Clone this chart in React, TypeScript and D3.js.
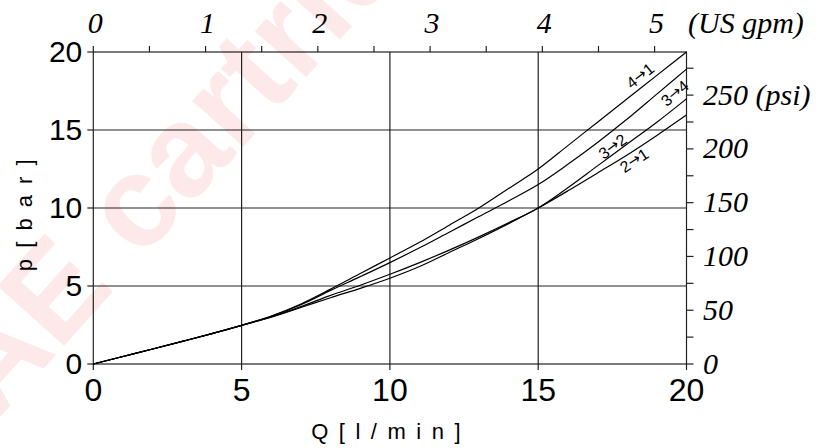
import React, { useEffect, useRef } from 'react';
import * as d3 from 'd3';

// flow in l/min, pressure drop in bar
const FLOW = [0, 1, 2, 3, 4, 5, 6, 7, 8, 9, 10, 11, 12, 13, 14, 15, 16, 17, 18, 19, 20];
const P_4_1 = [0, 0.48, 0.96, 1.45, 1.95, 2.48, 3.08, 3.85, 4.8, 5.8, 6.8, 7.8, 8.9, 10.0, 11.25, 12.5, 14.0, 15.5, 17.0, 18.5, 20.0];
const P_3_4 = [0, 0.48, 0.96, 1.45, 1.95, 2.48, 3.06, 3.8, 4.72, 5.6, 6.5, 7.45, 8.45, 9.45, 10.45, 11.5, 12.8, 14.2, 15.7, 17.3, 18.9];
const P_3_2 = [0, 0.48, 0.96, 1.45, 1.95, 2.48, 3.02, 3.68, 4.4, 5.05, 5.75, 6.5, 7.3, 8.15, 9.05, 10.0, 11.3, 12.7, 14.1, 15.5, 17.0];
const P_2_1 = [0, 0.48, 0.96, 1.45, 1.95, 2.48, 3.0, 3.62, 4.25, 4.85, 5.5, 6.25, 7.15, 8.05, 9.0, 10.0, 11.1, 12.25, 13.4, 14.65, 15.96];

const SERIES = [P_4_1, P_3_4, P_3_2, P_2_1];
const SERIES_LABELS = ['4\u21921', '3\u21924', '3\u21922', '2\u21921'];
const LABEL_AT_FLOW = [18.65, 19.37, 17.64, 18.08];

const BAR_TICKS = [0, 5, 10, 15, 20];
const FLOW_TICKS = [0, 5, 10, 15, 20];
const GPM_TICKS = [0, 0.5, 1, 1.5, 2, 2.5, 3, 3.5, 4, 4.5, 5];
const PSI_TICKS = [0, 25, 50, 75, 100, 125, 150, 175, 200, 225, 250, 275];

const L_PER_GAL = 3.785;
const PSI_PER_BAR = 14.5038;

const SANS = '"Liberation Sans", Arial, sans-serif';
const SERIF = '"Liberation Serif", "Times New Roman", serif';

export default function App() {
  const ref = useRef<SVGSVGElement>(null);

  useEffect(() => {
    const svg = d3.select(ref.current);
    svg.selectAll('*').remove();

    const left = 93.3, right = 686.5, top = 52, bottom = 364;
    const x = d3.scaleLinear().domain([0, 20]).range([left, right]);
    const y = d3.scaleLinear().domain([0, 20]).range([bottom, top]);
    const xGpm = d3.scaleLinear().domain([0, 20 / L_PER_GAL]).range([left, right]);
    const yPsi = d3.scaleLinear().domain([0, 20 * PSI_PER_BAR]).range([bottom, top]);

    // watermark
    svg.append('text')
      .attr('transform', 'translate(-38,392) rotate(-48)')
      .attr('font-family', SANS)
      .attr('font-weight', 'bold')
      .attr('font-size', 130)
      .attr('fill', '#fde9e9')
      .attr('dominant-baseline', 'central')
      .text('AE cartridge');

    const grid = svg.append('g').attr('stroke', '#222').attr('stroke-width', 1.2);
    [5, 10, 15].forEach((v) => {
      grid.append('line').attr('x1', x(v)).attr('x2', x(v)).attr('y1', top).attr('y2', bottom);
      grid.append('line').attr('x1', left).attr('x2', right).attr('y1', y(v)).attr('y2', y(v));
    });
    grid.append('rect')
      .attr('x', left).attr('y', top)
      .attr('width', right - left).attr('height', bottom - top)
      .attr('fill', 'none');

    // left axis
    BAR_TICKS.forEach((v) => {
      grid.append('line').attr('x1', left - 6).attr('x2', left).attr('y1', y(v)).attr('y2', y(v));
      svg.append('text')
        .attr('x', left - 11).attr('y', y(v) + 10)
        .attr('text-anchor', 'end')
        .attr('font-family', SANS).attr('font-size', 30)
        .text(v);
    });

    // bottom axis
    FLOW_TICKS.forEach((v) => {
      grid.append('line').attr('x1', x(v)).attr('x2', x(v)).attr('y1', bottom).attr('y2', bottom + 6);
      svg.append('text')
        .attr('x', x(v)).attr('y', 400.5)
        .attr('text-anchor', 'middle')
        .attr('font-family', SANS).attr('font-size', 32)
        .text(v);
    });

    // top axis (US gpm)
    GPM_TICKS.forEach((v) => {
      grid.append('line').attr('x1', xGpm(v)).attr('x2', xGpm(v)).attr('y1', top - 6).attr('y2', top);
      if (Number.isInteger(v)) {
        svg.append('text')
          .attr('x', xGpm(v) + 2).attr('y', 33)
          .attr('text-anchor', 'middle')
          .attr('font-family', SERIF).attr('font-style', 'italic').attr('font-size', 30)
          .text(v);
      }
    });
    svg.append('text')
      .attr('x', 688).attr('y', 33)
      .attr('font-family', SERIF).attr('font-style', 'italic').attr('font-size', 30)
      .text('(US gpm)');

    // right axis (psi)
    PSI_TICKS.forEach((v) => {
      grid.append('line').attr('x1', right).attr('x2', right + 7).attr('y1', yPsi(v)).attr('y2', yPsi(v));
      if (v % 50 === 0) {
        svg.append('text')
          .attr('x', 703).attr('y', yPsi(v) + 9.5)
          .attr('font-family', SERIF).attr('font-style', 'italic').attr('font-size', 30)
          .text(v === 250 ? '250 (psi)' : v);
      }
    });

    // axis titles
    svg.append('text')
      .attr('transform', 'translate(32,214) rotate(-90)')
      .attr('text-anchor', 'middle')
      .attr('font-family', SANS).attr('font-size', 22)
      .attr('letter-spacing', 2.5)
      .text('p [ b a r ]');
    svg.append('text')
      .attr('x', 387).attr('y', 439)
      .attr('text-anchor', 'middle')
      .attr('font-family', SANS).attr('font-size', 22)
      .attr('letter-spacing', 2.2)
      .text('Q [ l / m i n ]');

    // curves
    const line = d3.line<number>()
      .x((d, i) => x(FLOW[i]))
      .y((d) => y(d))
      .curve(d3.curveMonotoneX);

    SERIES.forEach((s) => {
      svg.append('path')
        .attr('d', line(s))
        .attr('fill', 'none')
        .attr('stroke', '#000')
        .attr('stroke-width', 1.2);
    });

    // curve labels along the curves
    const offsets = [-10.5, 10.5, -7, 8];
    SERIES.forEach((s, k) => {
      const q = LABEL_AT_FLOW[k];
      const i0 = Math.floor(q);
      const t = q - i0;
      const p = s[i0] + (s[i0 + 1] - s[i0]) * t;
      const dx = x(FLOW[i0 + 1]) - x(FLOW[i0]);
      const dy = y(s[i0 + 1]) - y(s[i0]);
      const th = Math.atan2(dy, dx);
      const off = -offsets[k];
      const px = x(q) + off * Math.sin(th);
      const py = y(p) - off * Math.cos(th);
      const g = svg.append('text')
        .attr('transform', `translate(${px},${py}) rotate(${(th * 180) / Math.PI})`)
        .attr('text-anchor', 'middle')
        .attr('dominant-baseline', 'central')
        .attr('font-family', SANS).attr('font-size', 16);
      const [a, b] = SERIES_LABELS[k].split('\u2192');
      g.append('tspan').text(a);
      g.append('tspan').attr('font-family', '"DejaVu Sans", sans-serif').attr('font-size', 15).text('\u2192');
      g.append('tspan').text(b);
    });
  }, []);

  return (
    <div style={{ position: 'absolute', left: 0, top: 0 }}>
      <svg ref={ref} width={822} height={448} style={{ display: 'block', background: '#fff' }} />
    </div>
  );
}
